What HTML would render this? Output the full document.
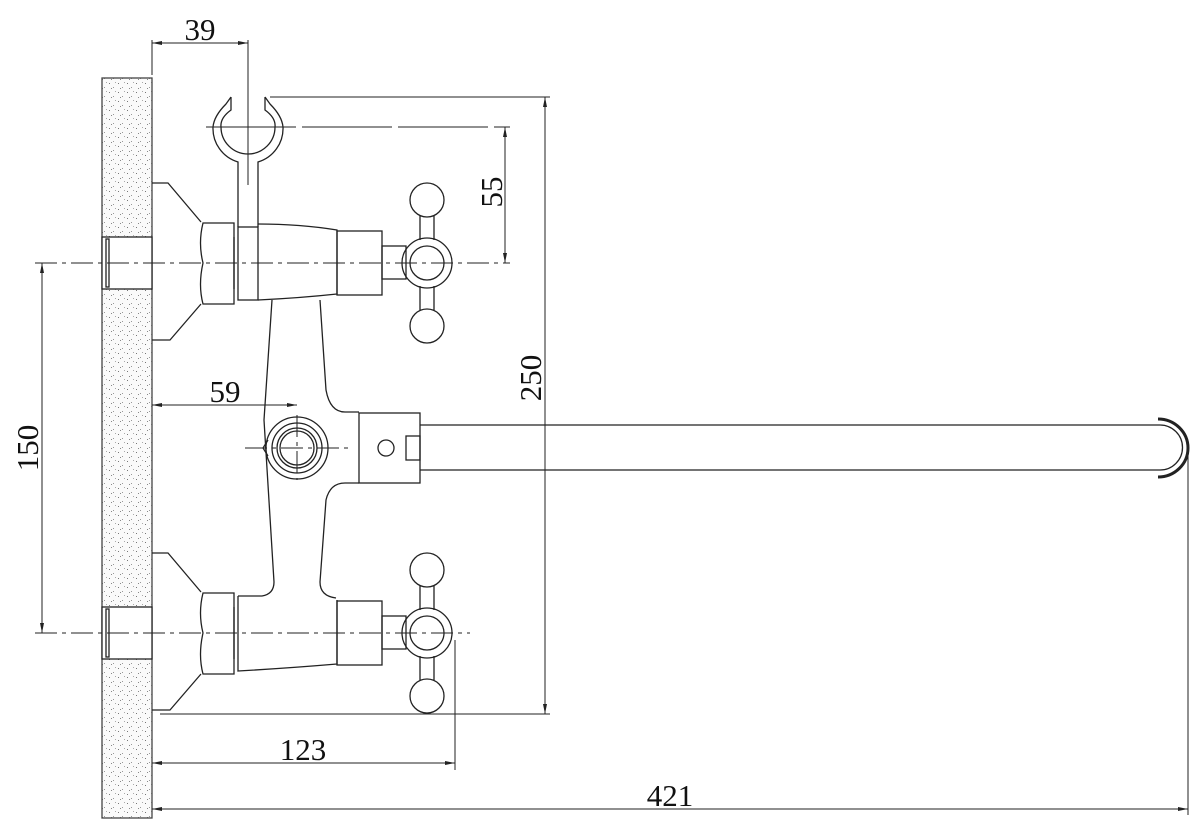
<!DOCTYPE html>
<html><head><meta charset="utf-8"><style>
html,body{margin:0;padding:0;background:#fff;}
svg{display:block}
text{font-family:"Liberation Serif","Noto Serif CJK SC",serif;font-size:31px;fill:#111}
</style></head><body>
<svg width="1204" height="836" viewBox="0 0 1204 836" xmlns="http://www.w3.org/2000/svg">
<defs>
<pattern id="dots" width="9" height="9" patternUnits="userSpaceOnUse">
<rect width="9" height="9" fill="#fafafa"/>
<rect x="1" y="2" width="1" height="1" fill="#777"/>
<rect x="5" y="6" width="1" height="1" fill="#999"/>
<rect x="7" y="1" width="1" height="1" fill="#aaa"/>
<rect x="3" y="7" width="1" height="1" fill="#888"/>
</pattern>
<marker id="a" viewBox="0 0 10 6" refX="10" refY="3" markerWidth="10" markerHeight="6" orient="auto-start-reverse" markerUnits="userSpaceOnUse"><path d="M0,1L10,3L0,5z" fill="#222"/></marker>
</defs>
<g stroke="#222" stroke-width="1.3" fill="none">
<rect x="102" y="78" width="50" height="740" fill="url(#dots)" stroke="#444"/>
<rect x="102" y="237" width="50" height="52" fill="#fff"/>
<rect x="106" y="239" width="3" height="48" fill="#fff"/>
<rect x="102" y="607" width="50" height="52" fill="#fff"/>
<rect x="106" y="609" width="3" height="48" fill="#fff"/>

<path d="M152,183H168L201,222M201,304L170,340H152"/>
<path d="M203,223H234V304H203Q198,285 203,263Q198,243 203,223Z"/>
<path d="M234,237V289"/>
<rect x="238" y="227" width="20" height="73"/>
<path d="M258,224Q300,224 337,230V294Q300,298 258,300"/>
<rect x="337" y="231" width="45" height="64"/>
<rect x="382" y="246" width="24" height="33"/>
<circle cx="427" cy="263" r="25"/><circle cx="427" cy="263" r="17"/>
<circle cx="427" cy="200" r="17"/><circle cx="427" cy="326" r="17"/>
<path d="M420,216V240M434,216V240M420,286V310M434,286V310"/>

<path d="M231,97L226,104Q214,116 213,127A35,35 0 0 0 238,162V227M265,97L270,104Q282,116 283,127A35,35 0 0 1 258,162V227"/>
<path d="M231,97V110Q220,118 221,127A27,27 0 0 0 275,127Q276,118 265,110V97"/>

<path d="M152,553H168L201,592M201,674L170,710H152"/>
<path d="M203,593H234V674H203Q198,655 203,633Q198,613 203,593Z"/>
<path d="M234,607V659"/>
<path d="M238,596H262Q274,594 274,582L264,420L272,300M320,300L326,390Q330,412 345,412H359M359,483H345Q330,483 326,500L320,582Q320,596 336,598"/>
<path d="M238,596V671Q290,668 337,664V600"/>
<rect x="337" y="601" width="45" height="64"/>
<rect x="382" y="616" width="24" height="33"/>
<circle cx="427" cy="633" r="25"/><circle cx="427" cy="633" r="17"/>
<circle cx="427" cy="570" r="17"/><circle cx="427" cy="696" r="17"/>
<path d="M420,586V610M434,586V610M420,656V680M434,656V680"/>

<circle cx="297" cy="448" r="31"/><circle cx="297" cy="448" r="25"/><circle cx="297" cy="448" r="20"/><circle cx="297" cy="448" r="17"/>
<path d="M268,440L263,448L268,456"/>
<rect x="359" y="413" width="61" height="70"/>
<circle cx="386" cy="448" r="8"/>
<rect x="406" y="436" width="14" height="24"/>
<path d="M420,425H1160A22.5,22.5 0 0 1 1160,470H420"/>
<path d="M1158,419A30,29 0 0 1 1158,477" stroke-width="3"/>

<g stroke-dasharray="22,5,4,5" stroke-width="1">
<path d="M35,263H510M35,633H470M245,448H350M297,415V480"/>
</g>
<path d="M248,40V185" stroke-width="1"/>
<path d="M206,127H510" stroke-width="1" stroke-dasharray="90,6"/>

<g stroke-width="1">
<path d="M152,40V75M270,97H550M160,714H550M455,640V770M1188,447V815M42,263H35M42,633H35"/>
<path d="M152,43H248" marker-start="url(#a)" marker-end="url(#a)"/>
<path d="M545,97V714" marker-start="url(#a)" marker-end="url(#a)"/>
<path d="M505,127V263" marker-start="url(#a)" marker-end="url(#a)"/>
<path d="M42,263V633" marker-start="url(#a)" marker-end="url(#a)"/>
<path d="M152,405H297" marker-start="url(#a)" marker-end="url(#a)"/>
<path d="M152,763H455" marker-start="url(#a)" marker-end="url(#a)"/>
<path d="M152,809H1188" marker-start="url(#a)" marker-end="url(#a)"/>
</g>
</g>
<text x="200" y="40" text-anchor="middle">39</text>
<text x="225" y="402" text-anchor="middle">59</text>
<text x="303" y="760" text-anchor="middle">123</text>
<text x="670" y="806" text-anchor="middle">421</text>
<text transform="translate(502,192) rotate(-90)" text-anchor="middle">55</text>
<text transform="translate(541,378) rotate(-90)" text-anchor="middle">250</text>
<text transform="translate(38,448) rotate(-90)" text-anchor="middle">150</text>
</svg>
</body></html>
